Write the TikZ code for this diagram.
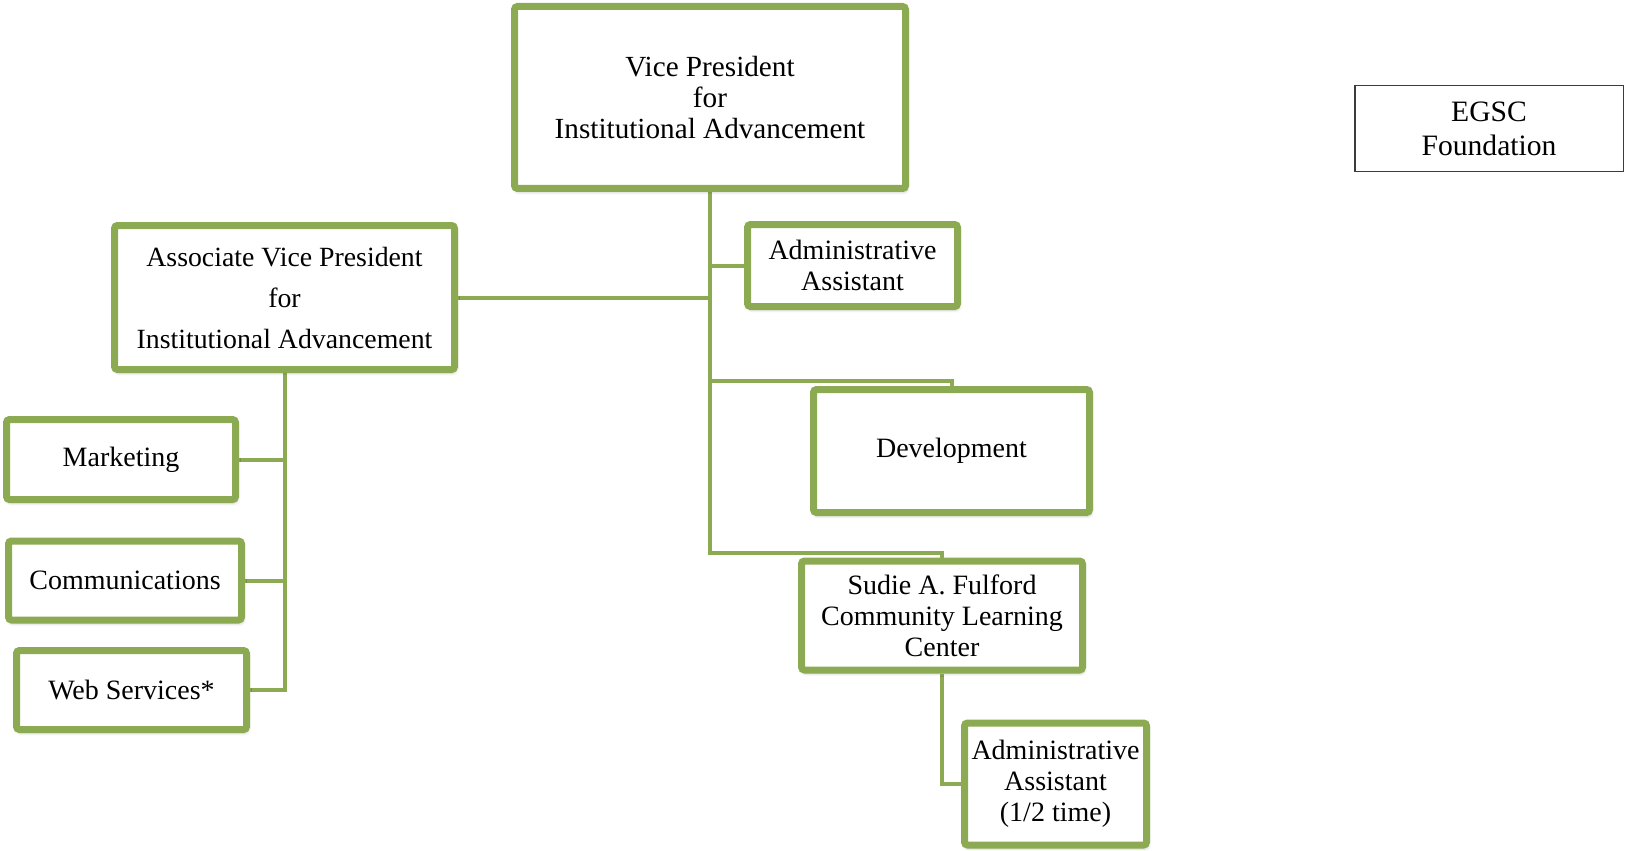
\documentclass[tikz,border=0pt]{standalone}
\usepackage{fontspec}
\setmainfont{Liberation Serif}
\usetikzlibrary{backgrounds,shadows.blur}
\definecolor{boxgreen}{RGB}{140,170,82}
\definecolor{egscgray}{RGB}{60,60,60}
\tikzset{
  orgbox/.style={draw=boxgreen, line width=3.5pt, fill=white, rounded corners=1.5pt,
    inner sep=0pt, align=center, font=\fontsize{14}{15.5}\selectfont,
    blur shadow={shadow xshift=0.6pt, shadow yshift=-1.4pt, shadow blur steps=5, shadow opacity=30}},
  plainbox/.style={draw=egscgray, line width=0.75pt, fill=white, inner sep=0pt,
    align=center, font=\fontsize{14.8}{17}\selectfont},
  link/.style={draw=boxgreen, line width=2pt, line join=miter}
}
\begin{document}
\begin{tikzpicture}[x=0.5pt,y=-0.5pt]
\useasboundingbox (0,0) rectangle (1625,850);
\node[orgbox, minimum width=195.5pt, minimum height=91pt,
  font=\fontsize{14.6}{15.5}\selectfont] (vp) at (710,97.5)
  {Vice President\\for\\Institutional Advancement};
\node[orgbox, minimum width=170pt, minimum height=72pt,
  font=\fontsize{13.9}{20.5}\selectfont] (avp) at (284.5,297.5)
  {Associate Vice President\\for\\Institutional Advancement};
\node[orgbox, minimum width=105pt, minimum height=41pt] (aa1) at (852.5,265.5)
  {Administrative\\Assistant};
\node[orgbox, minimum width=138pt, minimum height=61.5pt] (dev) at (951.5,451)
  {Development};
\node[orgbox, minimum width=140.5pt, minimum height=54.5pt] (clc) at (942,615.5)
  {Sudie A. Fulford\\Community Learning\\Center};
\node[orgbox, minimum width=91pt, minimum height=61pt] (aa2) at (1055.5,784)
  {Administrative\\Assistant\\(1/2 time)};
\node[orgbox, minimum width=114.5pt, minimum height=40pt] (mkt) at (121,459.5)
  {Marketing};
\node[orgbox, minimum width=116.5pt, minimum height=39.5pt] (com) at (125,580.5)
  {Communications};
\node[orgbox, minimum width=115pt, minimum height=39.5pt] (web) at (131.5,690)
  {Web Services*};
\node[plainbox, minimum width=134.25pt, minimum height=43pt] (egsc) at (1489,128.5)
  {EGSC\\Foundation};
\coordinate (jdev) at ([yshift=2.5pt]dev.north);
\coordinate (jclc) at ([yshift=2.5pt]clc.north);
\begin{pgfonlayer}{background}
\draw[link] (vp.south) |- (jclc) -- (clc.north);
\draw[link] (vp.south |- aa1.west) -- (aa1.west);
\draw[link] (avp.east) -- (avp.east -| vp.south);
\draw[link] (vp.south |- jdev) -| (dev.north);
\draw[link] (avp.south) -- (avp.south |- web.east) -- (web.east);
\draw[link] (mkt.east) -- (mkt.east -| avp.south);
\draw[link] (com.east) -- (com.east -| avp.south);
\draw[link] (clc.south) |- (aa2.west);
\end{pgfonlayer}
\end{tikzpicture}
\end{document}
